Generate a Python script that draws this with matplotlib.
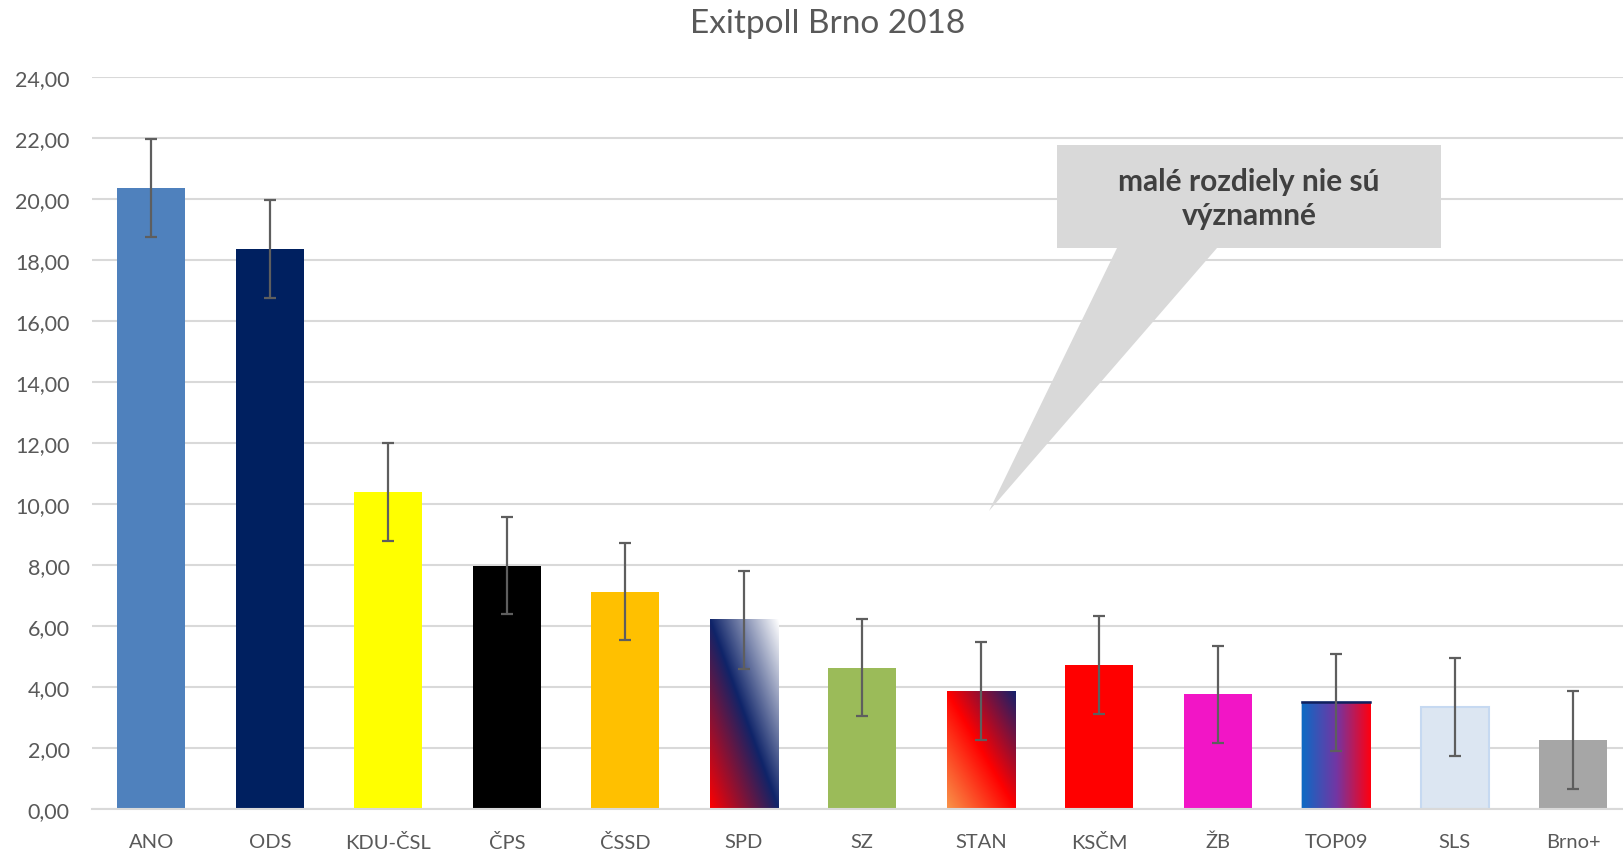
import matplotlib
matplotlib.use('Agg')
import matplotlib.pyplot as plt
import numpy as np
from matplotlib.colors import LinearSegmentedColormap
from matplotlib.patches import Polygon
from matplotlib.ticker import FuncFormatter

plt.rcParams['font.family'] = ['Lato', 'DejaVu Sans']

parties = ['ANO', 'ODS', 'KDU-ČSL', 'ČPS', 'ČSSD', 'SPD', 'SZ', 'STAN', 'KSČM', 'ŽB', 'TOP09', 'SLS', 'Brno+']
values = [20.36, 18.36, 10.40, 7.98, 7.13, 6.20, 4.64, 3.87, 4.72, 3.76, 3.50, 3.34, 2.26]
errors = [1.60, 1.60, 1.60, 1.60, 1.60, 1.60, 1.60, 1.60, 1.60, 1.60, 1.60, 1.60, 1.60]
colors = ['#4f81bd', '#002060', '#ffff00', '#000000', '#ffc000', None, '#9bbb59', None,
          '#ff0000', '#f215c6', None, '#dce6f2', '#a6a6a6']
# gradient fills: (colours, direction)
gradients = {
    'SPD': (['#ff0000', '#0f2469', '#ffffff'], 'diag'),
    'STAN': (['#f9944a', '#ff0000', '#14206b'], 'diag'),
    'TOP09': (['#0e6ac4', '#7236a4', '#ff0010'], 'horiz'),
}

fig = plt.figure(figsize=(16.23, 8.53), dpi=100)
W, H = 1623, 853
ax = fig.add_axes([92 / W, (H - 810) / H, (W - 92) / W, (810 - 78.3) / H])

x = np.arange(len(parties))
bw = 0.575
bars = ax.bar(x, values, width=bw, color=[c if c else 'none' for c in colors], zorder=2)
bars[11].set_edgecolor('#c6d9f1')
bars[11].set_linewidth(1.5)

for i, p in enumerate(parties):
    if p not in gradients:
        continue
    cols, mode = gradients[p]
    cmap = LinearSegmentedColormap.from_list(p, cols)
    u, v = np.meshgrid(np.linspace(0, 1, 200), np.linspace(0, 1, 200))
    t = (u + v) / 2 if mode == 'diag' else u
    ax.imshow(t, cmap=cmap, origin='lower', aspect='auto', interpolation='bilinear',
              extent=(i - bw / 2, i + bw / 2, 0, values[i]), zorder=2)
    if p == 'TOP09':
        bars[i].set_edgecolor('#9dbbe0')
        bars[i].set_linewidth(1.2)
        bars[i].set_facecolor('none')
        ax.plot([i - bw / 2, i + bw / 2], [values[i], values[i]], color='#10205e', lw=1.8, zorder=3)

ax.errorbar(x, values, yerr=errors, fmt='none', ecolor='#5e5e5e', elinewidth=1.6,
            capsize=4.3, capthick=1.6, zorder=4)

ax.set_xlim(-0.5, -0.5 + (W - 92) / 118.5)
ax.set_ylim(0, 24)
ax.set_yticks(np.arange(0, 25, 2))
ax.yaxis.set_major_formatter(FuncFormatter(lambda v, _: f'{v:.2f}'.replace('.', ',')))
ax.set_xticks(x)
ax.set_xticklabels(parties)
ax.tick_params(axis='both', length=0, labelcolor='#595959')
ax.tick_params(axis='y', pad=16, labelsize=15.5)
ax.tick_params(axis='x', pad=17, labelsize=14.5)
ax.grid(axis='y', color='#d9d9d9', lw=1.5, zorder=0)
ax.set_axisbelow(True)
for s in ['top', 'right', 'left']:
    ax.spines[s].set_visible(False)
ax.spines['bottom'].set_color('#d9d9d9')
ax.spines['bottom'].set_linewidth(1.5)

fig.text(828 / W, 1 - 24 / H, 'Exitpoll Brno 2018', ha='center', va='center', fontsize=24, color='#595959')

# callout box
def px(xp, yp):
    return (xp / W, 1 - yp / H)

callout = [px(1057, 146), px(1441, 146), px(1441, 249), px(1217, 249), px(989, 512),
           px(1117, 249), px(1057, 249)]
fig.patches.append(Polygon(callout, closed=True, transform=fig.transFigure,
                           facecolor='#d9d9d9', edgecolor='none', zorder=5))
fig.text(1249 / W, 1 - 199 / H, 'malé rozdiely nie sú\nvýznamné', ha='center', va='center',
         fontsize=21.5, fontweight='bold', color='#404040', linespacing=1.3, zorder=6)

fig.savefig('out.png', dpi=100)
